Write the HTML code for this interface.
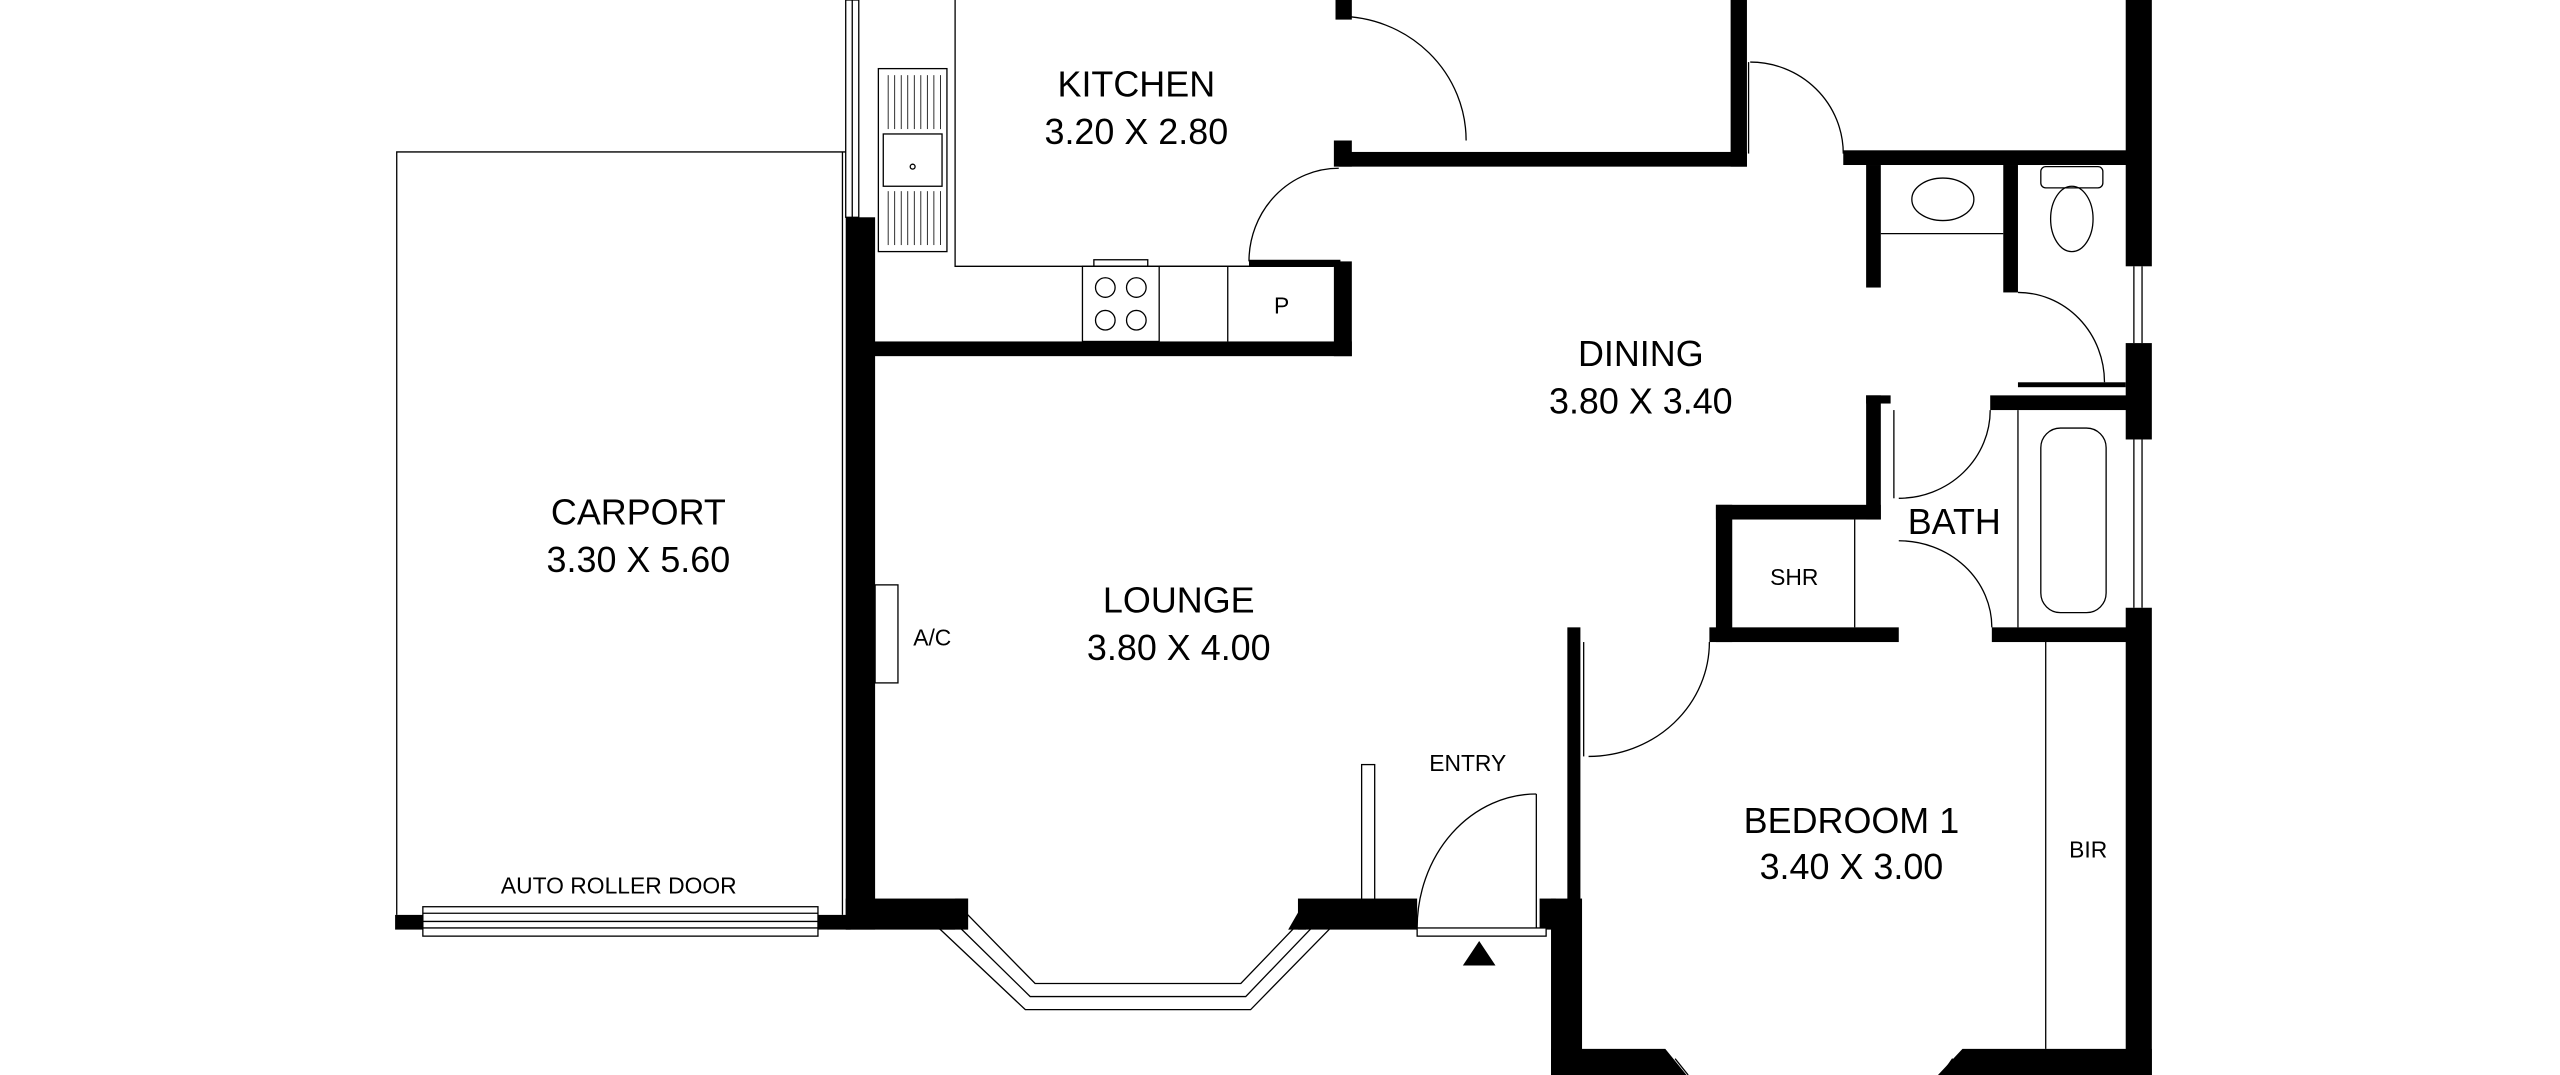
<!DOCTYPE html>
<html><head><meta charset="utf-8"><style>
html,body{margin:0;padding:0;background:#fff;}
svg{display:block;}
text{font-family:"Liberation Sans",sans-serif;fill:#000;}
</style></head><body>
<svg width="2560" height="1075" viewBox="0 0 1568 658" preserveAspectRatio="none" xmlns="http://www.w3.org/2000/svg">
<rect width="1568" height="658" fill="#fff"/>
<g fill="#000" stroke="none">
<rect x="518" y="133" width="18" height="436"/>
<rect x="518" y="550" width="67" height="19"/>
<rect x="501" y="560" width="20" height="9"/>
<rect x="242" y="560" width="17" height="9"/>
<polygon points="585,550 593,550 593,569 575,569"/>
<rect x="795" y="550" width="73" height="19"/>
<polygon points="789,569 800,550 800,569"/>
<rect x="535" y="209" width="293" height="9"/>
<rect x="817" y="160" width="11" height="58"/>
<rect x="765" y="159" width="56" height="4"/>
<rect x="818" y="0" width="10" height="12"/>
<rect x="817" y="86" width="11" height="16"/>
<rect x="820" y="93" width="250" height="9"/>
<rect x="1060" y="0" width="10" height="102"/>
<rect x="1129" y="92" width="175" height="9"/>
<rect x="1302" y="0" width="16" height="163"/>
<rect x="1302" y="210" width="16" height="59"/>
<rect x="1302" y="372" width="16" height="286"/>
<rect x="1143" y="101" width="9" height="75"/>
<rect x="1227" y="101" width="9" height="78"/>
<rect x="1219" y="242" width="85" height="9"/>
<rect x="1236" y="234" width="66" height="3"/>
<rect x="1143" y="242" width="15" height="5"/>
<rect x="1143" y="242" width="9" height="76"/>
<rect x="1051" y="309" width="101" height="9"/>
<rect x="1051" y="309" width="10" height="84"/>
<rect x="1047" y="384" width="116" height="9"/>
<rect x="1220" y="384" width="84" height="9"/>
<rect x="960" y="384" width="8" height="170"/>
<rect x="950" y="550" width="19" height="108"/>
<rect x="943" y="550" width="10" height="19"/>
<polygon points="950,642 1020,642 1033,658 950,658"/>
<polygon points="1202,642 1318,642 1318,658 1187,658"/>
</g>
<g fill="none" stroke="#000" stroke-width="0.8">
<polyline points="243,560 243,93 518,93"/>
<line x1="516" y1="93" x2="516" y2="560"/>
<rect x="259" y="555" width="242" height="18" fill="#fff"/>
<line x1="259" y1="559" x2="501" y2="559"/>
<line x1="259" y1="564" x2="501" y2="564"/>
<line x1="259" y1="568" x2="501" y2="568"/>
<rect x="518" y="0" width="8" height="133"/>
<line x1="522" y1="0" x2="522" y2="133"/>
<polyline points="585,0 585,163 765,163"/>
<rect x="538" y="42" width="42" height="112"/>
<rect x="541" y="82" width="36" height="32"/>
<circle cx="559" cy="102" r="1.5"/>
<g stroke-width="0.5">
<line x1="544" y1="46" x2="544" y2="79"/><line x1="548" y1="46" x2="548" y2="79"/><line x1="552" y1="46" x2="552" y2="79"/><line x1="556" y1="46" x2="556" y2="79"/><line x1="560" y1="46" x2="560" y2="79"/><line x1="564" y1="46" x2="564" y2="79"/><line x1="568" y1="46" x2="568" y2="79"/><line x1="572" y1="46" x2="572" y2="79"/><line x1="576" y1="46" x2="576" y2="79"/>
<line x1="544" y1="117" x2="544" y2="150"/><line x1="548" y1="117" x2="548" y2="150"/><line x1="552" y1="117" x2="552" y2="150"/><line x1="556" y1="117" x2="556" y2="150"/><line x1="560" y1="117" x2="560" y2="150"/><line x1="564" y1="117" x2="564" y2="150"/><line x1="568" y1="117" x2="568" y2="150"/><line x1="572" y1="117" x2="572" y2="150"/><line x1="576" y1="117" x2="576" y2="150"/>
</g>
<rect x="663" y="163" width="47" height="46"/>
<rect x="670" y="159" width="33" height="4"/>
<ellipse cx="677" cy="176" rx="6" ry="6"/><ellipse cx="696" cy="176" rx="6" ry="6"/>
<ellipse cx="677" cy="196" rx="6" ry="6"/><ellipse cx="696" cy="196" rx="6" ry="6"/>
<line x1="752" y1="163" x2="752" y2="209"/>
<line x1="710" y1="163" x2="817" y2="163"/>
<path d="M820,10 A78,76 0 0 1 898,86"/>
<path d="M820,103 A55,57 0 0 0 765,160"/>
<path d="M1072,38 A57,56 0 0 1 1129,94"/>
<line x1="1071" y1="38" x2="1071" y2="94"/>
<path d="M1236,179 A53,55 0 0 1 1289,234"/>
<path d="M1219,251 A56,54 0 0 1 1163,305"/>
<line x1="1160" y1="251" x2="1160" y2="305"/>
<path d="M1163,331 A57,53 0 0 1 1220,384"/>
<path d="M1047,393 A74,70 0 0 1 973,463"/>
<line x1="970" y1="393" x2="970" y2="463"/>
<path d="M868,568 A73,82 0 0 1 941,486"/>
<line x1="941" y1="486" x2="941" y2="568"/>
<rect x="868" y="568" width="79" height="5" fill="#fff"/>
<ellipse cx="1190" cy="122" rx="19" ry="13"/>
<line x1="1152" y1="143" x2="1227" y2="143"/>
<rect x="1250" y="102" width="38" height="13" rx="3"/>
<ellipse cx="1269" cy="134" rx="13" ry="20"/>
<line x1="1307" y1="163" x2="1307" y2="210"/><line x1="1312" y1="163" x2="1312" y2="210"/>
<line x1="1307" y1="269" x2="1307" y2="372"/><line x1="1312" y1="269" x2="1312" y2="372"/>
<line x1="1236" y1="251" x2="1236" y2="384"/>
<rect x="1250" y="262" width="40" height="113" rx="12"/>
<line x1="1136" y1="318" x2="1136" y2="384"/>
<line x1="1253" y1="393" x2="1253" y2="642"/>
<rect x="536" y="358" width="14" height="60"/>
<rect x="834" y="468" width="8" height="83"/>
<polyline points="585,552 634,602 760,602 808,552"/>
<polyline points="580,560 631,610 763,610 811,560"/>
<polyline points="575,568 628,618 766,618 815,568"/>
<line x1="1026" y1="648" x2="1034" y2="658"/>
<line x1="1196" y1="648" x2="1189" y2="658"/>
</g>
<polygon points="906,576 896,591 916,591" fill="#000"/>
<g font-size="22" text-anchor="middle">
<text x="696" y="59">KITCHEN</text>
<text x="696" y="88">3.20 X 2.80</text>
<text x="1005" y="224">DINING</text>
<text x="1005" y="253">3.80 X 3.40</text>
<text x="391" y="321">CARPORT</text>
<text x="391" y="350">3.30 X 5.60</text>
<text x="722" y="375">LOUNGE</text>
<text x="722" y="404">3.80 X 4.00</text>
<text x="1134" y="510">BEDROOM 1</text>
<text x="1134" y="538">3.40 X 3.00</text>
<text x="1197" y="327">BATH</text>
</g>
<g font-size="14" text-anchor="middle">
<text x="379" y="547">AUTO ROLLER DOOR</text>
<text x="571" y="395">A/C</text>
<text x="899" y="472">ENTRY</text>
<text x="1099" y="358">SHR</text>
<text x="1279" y="525">BIR</text>
<text x="785" y="192">P</text>
</g>
</svg>
</body></html>
